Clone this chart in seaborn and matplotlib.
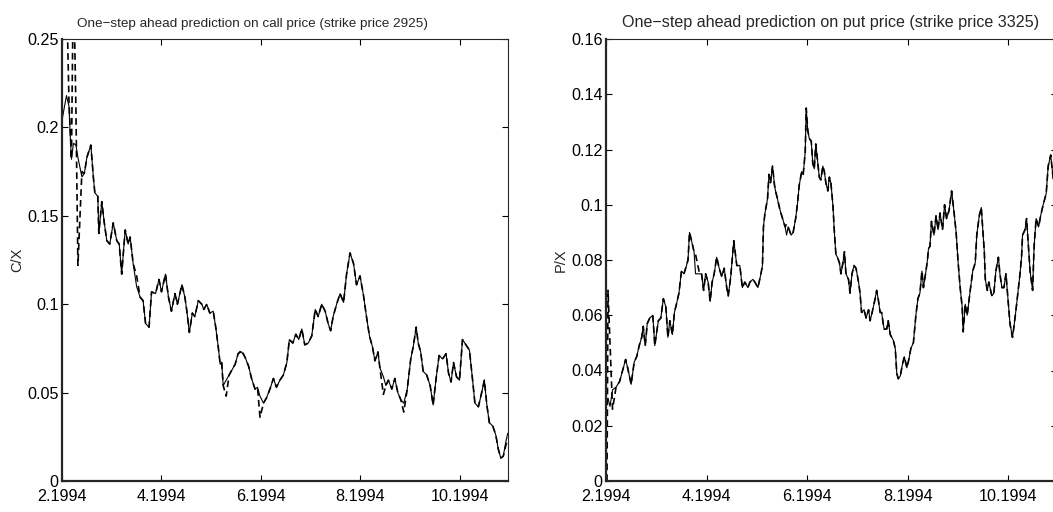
import matplotlib
matplotlib.use("Agg")
import matplotlib.pyplot as plt
import seaborn as sns
from matplotlib import font_manager

# --- dados (mes fracionario de 1994, razao preco/strike) ---
call_months = [
    2.00, 2.09, 2.14, 2.17, 2.19, 2.23, 2.28, 2.32, 2.40, 2.45,
    2.50, 2.58, 2.63, 2.66, 2.72, 2.74, 2.80, 2.85, 2.90, 2.96,
    3.03, 3.10, 3.15, 3.20, 3.27, 3.33, 3.37, 3.43, 3.50, 3.57,
    3.63, 3.68, 3.75, 3.80, 3.88, 3.95, 4.00, 4.08, 4.14, 4.20,
    4.27, 4.32, 4.41, 4.47, 4.51, 4.56, 4.62, 4.67, 4.74, 4.81,
    4.85, 4.91, 4.97, 5.04, 5.09, 5.14, 5.18, 5.21, 5.24, 5.30,
    5.36, 5.42, 5.48, 5.54, 5.61, 5.68, 5.75, 5.81, 5.88, 5.93,
    5.98, 6.05, 6.11, 6.18, 6.25, 6.31, 6.38, 6.45, 6.52, 6.57,
    6.64, 6.70, 6.76, 6.82, 6.88, 6.95, 7.02, 7.09, 7.15, 7.22,
    7.29, 7.35, 7.40, 7.45, 7.52, 7.59, 7.66, 7.72, 7.79, 7.86,
    7.92, 7.99, 8.06, 8.12, 8.18, 8.24, 8.29, 8.35, 8.39, 8.46,
    8.51, 8.56, 8.63, 8.69, 8.75, 8.81, 8.87, 8.94, 9.01, 9.06,
    9.12, 9.16, 9.21, 9.26, 9.33, 9.40, 9.46, 9.52, 9.58, 9.65,
    9.72, 9.77, 9.82, 9.87, 9.93, 9.99, 10.05, 10.12, 10.19, 10.25,
    10.30, 10.37, 10.42, 10.49, 10.54, 10.59, 10.66, 10.72, 10.77, 10.82,
    10.87, 10.92, 10.96,
]
call_actual = [
    0.204, 0.218, 0.212, 0.193, 0.182, 0.191, 0.190, 0.183, 0.172, 0.174,
    0.183, 0.190, 0.172, 0.163, 0.161, 0.140, 0.158, 0.146, 0.136, 0.134,
    0.146, 0.136, 0.134, 0.117, 0.142, 0.134, 0.138, 0.123, 0.110, 0.104,
    0.102, 0.089, 0.087, 0.107, 0.106, 0.114, 0.107, 0.117, 0.104, 0.096,
    0.106, 0.100, 0.111, 0.104, 0.096, 0.084, 0.095, 0.093, 0.102, 0.100,
    0.097, 0.100, 0.095, 0.096, 0.087, 0.076, 0.066, 0.067, 0.054, 0.057,
    0.060, 0.063, 0.066, 0.072, 0.073, 0.070, 0.065, 0.058, 0.052, 0.053,
    0.048, 0.044, 0.047, 0.052, 0.058, 0.053, 0.057, 0.060, 0.067, 0.080,
    0.078, 0.083, 0.080, 0.086, 0.077, 0.078, 0.082, 0.097, 0.093, 0.100,
    0.096, 0.089, 0.085, 0.093, 0.100, 0.106, 0.101, 0.117, 0.129, 0.123,
    0.111, 0.116, 0.105, 0.093, 0.082, 0.076, 0.068, 0.073, 0.064, 0.059,
    0.054, 0.057, 0.052, 0.058, 0.050, 0.046, 0.044, 0.052, 0.069, 0.076,
    0.087, 0.078, 0.073, 0.062, 0.060, 0.054, 0.043, 0.058, 0.071, 0.069,
    0.072, 0.061, 0.056, 0.067, 0.059, 0.057, 0.080, 0.077, 0.074, 0.058,
    0.044, 0.042, 0.048, 0.057, 0.043, 0.033, 0.031, 0.026, 0.018, 0.013,
    0.014, 0.022, 0.027,
]
call_pred = [
    0.330, 0.280, 0.215, 0.195, 0.182, 0.290, 0.210, 0.122, 0.175, 0.174,
    0.183, 0.190, 0.172, 0.163, 0.161, 0.140, 0.158, 0.146, 0.136, 0.134,
    0.146, 0.136, 0.134, 0.117, 0.142, 0.134, 0.138, 0.123, 0.116, 0.104,
    0.102, 0.089, 0.087, 0.107, 0.106, 0.114, 0.107, 0.117, 0.104, 0.096,
    0.106, 0.100, 0.111, 0.104, 0.096, 0.084, 0.095, 0.093, 0.102, 0.100,
    0.097, 0.100, 0.095, 0.096, 0.087, 0.076, 0.066, 0.067, 0.054, 0.048,
    0.060, 0.063, 0.066, 0.072, 0.074, 0.070, 0.065, 0.058, 0.052, 0.053,
    0.036, 0.044, 0.047, 0.052, 0.058, 0.053, 0.057, 0.060, 0.067, 0.080,
    0.078, 0.083, 0.080, 0.086, 0.077, 0.078, 0.082, 0.097, 0.093, 0.100,
    0.096, 0.089, 0.085, 0.093, 0.100, 0.106, 0.101, 0.117, 0.129, 0.123,
    0.111, 0.116, 0.105, 0.093, 0.082, 0.076, 0.068, 0.073, 0.064, 0.049,
    0.054, 0.057, 0.052, 0.058, 0.050, 0.046, 0.039, 0.052, 0.069, 0.076,
    0.087, 0.078, 0.073, 0.062, 0.060, 0.054, 0.043, 0.058, 0.071, 0.069,
    0.072, 0.061, 0.056, 0.067, 0.059, 0.057, 0.080, 0.077, 0.074, 0.058,
    0.044, 0.042, 0.048, 0.057, 0.043, 0.033, 0.031, 0.026, 0.018, 0.013,
    0.014, 0.020, 0.024,
]

put_months = [
    2.02, 2.04, 2.08, 2.13, 2.20, 2.27, 2.33, 2.39, 2.43, 2.50,
    2.56, 2.61, 2.66, 2.71, 2.74, 2.78, 2.82, 2.87, 2.93, 2.97,
    3.04, 3.09, 3.14, 3.19, 3.23, 3.27, 3.32, 3.36, 3.40, 3.45,
    3.50, 3.55, 3.60, 3.63, 3.66, 3.70, 3.75, 3.78, 3.86, 3.90,
    3.94, 3.98, 4.03, 4.07, 4.11, 4.15, 4.20, 4.25, 4.30, 4.35,
    4.40, 4.43, 4.48, 4.54, 4.60, 4.66, 4.71, 4.76, 4.82, 4.86,
    4.92, 4.96, 5.02, 5.08, 5.11, 5.13, 5.16, 5.21, 5.24, 5.27,
    5.31, 5.35, 5.37, 5.41, 5.46, 5.51, 5.56, 5.59, 5.62, 5.68,
    5.72, 5.77, 5.81, 5.84, 5.89, 5.92, 5.96, 5.98, 6.01, 6.04,
    6.08, 6.11, 6.14, 6.17, 6.21, 6.24, 6.27, 6.31, 6.34, 6.37,
    6.41, 6.44, 6.47, 6.51, 6.54, 6.57, 6.60, 6.64, 6.67, 6.71,
    6.74, 6.77, 6.82, 6.85, 6.89, 6.93, 6.97, 7.02, 7.05, 7.08,
    7.13, 7.17, 7.22, 7.25, 7.29, 7.35, 7.38, 7.41, 7.45, 7.48,
    7.51, 7.53, 7.58, 7.61, 7.65, 7.68, 7.71, 7.75, 7.78, 7.81,
    7.85, 7.89, 7.93, 7.98, 8.02, 8.06, 8.11, 8.16, 8.20, 8.24,
    8.28, 8.31, 8.36, 8.39, 8.41, 8.44, 8.47, 8.52, 8.56, 8.60,
    8.64, 8.69, 8.73, 8.77, 8.82, 8.87, 8.92, 8.96, 9.00, 9.04,
    9.08, 9.10, 9.14, 9.18, 9.24, 9.29, 9.34, 9.37, 9.42, 9.46,
    9.49, 9.52, 9.54, 9.58, 9.61, 9.67, 9.71, 9.75, 9.80, 9.83,
    9.87, 9.91, 9.95, 9.99, 10.03, 10.08, 10.11, 10.15, 10.20, 10.23,
    10.26, 10.28, 10.33, 10.36, 10.43, 10.48, 10.51, 10.55, 10.60, 10.64,
    10.69, 10.75, 10.79, 10.84, 10.88, 10.93, 10.97,
]
put_actual = [
    0.029, 0.030, 0.027, 0.033, 0.034, 0.036, 0.040, 0.044, 0.041, 0.035,
    0.043, 0.045, 0.049, 0.052, 0.056, 0.049, 0.057, 0.059, 0.060, 0.049,
    0.058, 0.059, 0.066, 0.063, 0.052, 0.058, 0.053, 0.061, 0.064, 0.068,
    0.076, 0.075, 0.078, 0.080, 0.090, 0.087, 0.083, 0.075, 0.075, 0.075,
    0.069, 0.075, 0.072, 0.065, 0.072, 0.075, 0.081, 0.077, 0.074, 0.077,
    0.070, 0.067, 0.074, 0.087, 0.078, 0.078, 0.070, 0.072, 0.070, 0.072,
    0.073, 0.072, 0.070, 0.075, 0.078, 0.092, 0.097, 0.102, 0.111, 0.108,
    0.114, 0.107, 0.105, 0.102, 0.098, 0.095, 0.092, 0.089, 0.092, 0.089,
    0.090, 0.095, 0.101, 0.107, 0.112, 0.111, 0.119, 0.135, 0.127, 0.124,
    0.123, 0.115, 0.113, 0.122, 0.115, 0.110, 0.109, 0.114, 0.112, 0.108,
    0.105, 0.110, 0.108, 0.100, 0.090, 0.082, 0.081, 0.079, 0.075, 0.079,
    0.083, 0.075, 0.073, 0.068, 0.075, 0.078, 0.077, 0.072, 0.068, 0.061,
    0.062, 0.059, 0.062, 0.058, 0.061, 0.066, 0.069, 0.066, 0.061, 0.061,
    0.057, 0.055, 0.055, 0.058, 0.053, 0.052, 0.051, 0.048, 0.039, 0.037,
    0.038, 0.042, 0.045, 0.041, 0.044, 0.048, 0.050, 0.060, 0.066, 0.068,
    0.076, 0.070, 0.076, 0.080, 0.084, 0.085, 0.094, 0.089, 0.096, 0.091,
    0.097, 0.091, 0.100, 0.095, 0.098, 0.105, 0.097, 0.090, 0.079, 0.070,
    0.063, 0.054, 0.064, 0.060, 0.069, 0.076, 0.079, 0.089, 0.096, 0.099,
    0.091, 0.083, 0.073, 0.069, 0.072, 0.067, 0.068, 0.076, 0.081, 0.075,
    0.070, 0.070, 0.075, 0.066, 0.057, 0.052, 0.056, 0.062, 0.070, 0.075,
    0.081, 0.089, 0.091, 0.095, 0.076, 0.069, 0.085, 0.095, 0.092, 0.096,
    0.100, 0.104, 0.114, 0.118, 0.111, 0.104, 0.108,
]
put_pred = [
    0.000, 0.069, 0.050, 0.026, 0.034, 0.036, 0.040, 0.044, 0.041, 0.035,
    0.043, 0.045, 0.049, 0.052, 0.056, 0.049, 0.057, 0.059, 0.060, 0.049,
    0.058, 0.059, 0.066, 0.063, 0.052, 0.058, 0.053, 0.061, 0.064, 0.068,
    0.076, 0.075, 0.078, 0.080, 0.090, 0.087, 0.083, 0.082, 0.075, 0.075,
    0.069, 0.075, 0.072, 0.065, 0.072, 0.075, 0.081, 0.077, 0.074, 0.077,
    0.070, 0.067, 0.074, 0.087, 0.078, 0.078, 0.070, 0.072, 0.070, 0.072,
    0.073, 0.072, 0.070, 0.075, 0.078, 0.092, 0.097, 0.102, 0.111, 0.108,
    0.114, 0.107, 0.105, 0.102, 0.098, 0.095, 0.092, 0.093, 0.092, 0.089,
    0.090, 0.095, 0.101, 0.107, 0.112, 0.111, 0.119, 0.135, 0.127, 0.124,
    0.123, 0.115, 0.113, 0.122, 0.115, 0.110, 0.109, 0.114, 0.112, 0.108,
    0.105, 0.110, 0.108, 0.100, 0.090, 0.082, 0.081, 0.079, 0.075, 0.079,
    0.083, 0.075, 0.073, 0.068, 0.075, 0.078, 0.077, 0.072, 0.068, 0.061,
    0.062, 0.059, 0.062, 0.058, 0.061, 0.066, 0.069, 0.066, 0.061, 0.061,
    0.057, 0.055, 0.055, 0.058, 0.053, 0.052, 0.051, 0.048, 0.039, 0.037,
    0.038, 0.042, 0.045, 0.041, 0.044, 0.048, 0.050, 0.060, 0.066, 0.068,
    0.076, 0.070, 0.076, 0.080, 0.084, 0.085, 0.094, 0.089, 0.096, 0.091,
    0.097, 0.091, 0.100, 0.095, 0.098, 0.105, 0.097, 0.090, 0.079, 0.070,
    0.063, 0.054, 0.064, 0.060, 0.069, 0.076, 0.079, 0.089, 0.096, 0.099,
    0.091, 0.083, 0.073, 0.069, 0.072, 0.067, 0.068, 0.076, 0.081, 0.075,
    0.070, 0.070, 0.075, 0.066, 0.057, 0.052, 0.056, 0.062, 0.070, 0.075,
    0.081, 0.089, 0.091, 0.095, 0.076, 0.069, 0.085, 0.095, 0.092, 0.096,
    0.100, 0.104, 0.114, 0.118, 0.111, 0.104, 0.108,
]

x_ticks = [2, 4, 6, 8, 10]
x_tick_labels = ["2.1994", "4.1994", "6.1994", "8.1994", "10.1994"]
call_yticks = [0, 0.05, 0.1, 0.15, 0.2, 0.25]
call_ytick_labels = ["0", "0.05", "0.1", "0.15", "0.2", "0.25"]
put_yticks = [0, 0.02, 0.04, 0.06, 0.08, 0.1, 0.12, 0.14, 0.16]
put_ytick_labels = ["0", "0.02", "0.04", "0.06", "0.08", "0.1", "0.12", "0.14", "0.16"]

call_title = "One\u2212step ahead prediction on call price (strike price 2925)"
put_title = "One\u2212step ahead prediction on put price (strike price 3325)"

assert len(call_months) == len(call_actual) == len(call_pred)
assert len(put_months) == len(put_actual) == len(put_pred)

sns.set_style("ticks")
names = {f.name for f in font_manager.fontManager.ttflist}
if "Liberation Sans Narrow" in names:
    FONT, TICK_FS, LABEL_FS = "Liberation Sans Narrow", 14, 13
    TITLE_FS = (11.9, 14.2)
else:
    FONT, TICK_FS, LABEL_FS = "Liberation Sans", 11.6, 10.5
    TITLE_FS = (9.7, 11.6)
plt.rcParams["font.family"] = [FONT, "DejaVu Sans"]
plt.rcParams["axes.unicode_minus"] = True

fig = plt.figure(figsize=(10.53, 5.12), dpi=100)
ax_call = fig.add_axes([62 / 1053, 31 / 512, 446 / 1053, 442 / 512])
ax_put = fig.add_axes([606 / 1053, 31 / 512, 451 / 1053, 442 / 512])

panels = [
    (ax_call, call_months, call_actual, call_pred, call_yticks, call_ytick_labels,
     (0, 0.25), "C/X", call_title, 0.428, TITLE_FS[0]),
    (ax_put, put_months, put_actual, put_pred, put_yticks, put_ytick_labels,
     (0, 0.16), "P/X", put_title, 0.499, TITLE_FS[1]),
]

for ax, t, actual, pred, yt, ytl, ylim, ylab, title, tx, tfs in panels:
    # previsao (tracejada) por baixo, preco observado (continua) por cima
    sns.lineplot(x=t, y=pred, ax=ax, color="black", lw=1.2,
                 linestyle=(0, (4, 2.5)), estimator=None, sort=False)
    sns.lineplot(x=t, y=actual, ax=ax, color="black", lw=0.8,
                 estimator=None, sort=False)
    ax.set_xlim(2, 10.965)
    ax.set_ylim(*ylim)
    ax.set_xticks(x_ticks, labels=x_tick_labels)
    ax.set_yticks(yt, labels=ytl)
    ax.tick_params(direction="in", top=True, right=True, length=4, width=0.8,
                   labelsize=TICK_FS, colors="black")
    ax.tick_params(axis="x", pad=5.5)
    ax.tick_params(axis="y", pad=2.5)
    for side in ["left", "bottom"]:
        ax.spines[side].set_linewidth(1.6)
    for side in ["top", "right"]:
        ax.spines[side].set_linewidth(0.8)
        ax.spines[side].set_visible(True)
    ax.set_ylabel(ylab, fontsize=LABEL_FS)
    ax.yaxis.set_label_coords(-0.085, 0.5)
    ax.set_xlabel("")
    ax.set_title(title, fontsize=tfs, x=tx, pad=8.5)

fig.savefig("out.png", dpi=100)
plt.close(fig)
